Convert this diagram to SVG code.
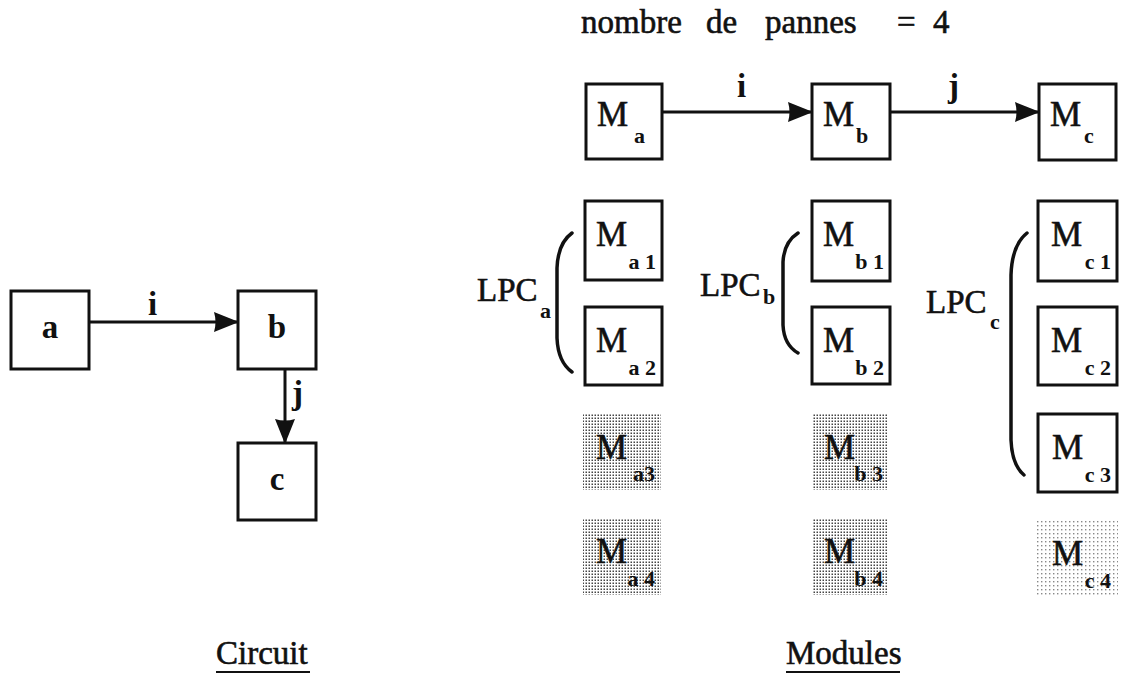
<svg xmlns="http://www.w3.org/2000/svg" width="1126" height="695" viewBox="0 0 1126 695">
<style>
text{font-family:"Liberation Serif","Times New Roman",serif;fill:#111;stroke:#111;stroke-width:0.6}
.box{fill:#fff;stroke:#111;stroke-width:3}
.shade{fill:url(#dots);stroke:none}
.shadeL{fill:url(#dotsL);stroke:none}
.lbl{font-size:33px;font-weight:bold;stroke-width:0}
.M{font-size:35px}
.sub{font-size:22px;font-weight:bold;stroke-width:0}
.lpc{font-size:33px}
.title{font-size:33px}
.cap{font-size:33px}
.conn{stroke:#111;stroke-width:3;fill:none}
.brk{stroke:#111;stroke-width:3.5;fill:none;stroke-linecap:round}
</style>
<defs>
<pattern id="dots" width="3" height="3" patternUnits="userSpaceOnUse">
<rect width="3" height="3" fill="#fff"/>
<rect x="0.5" y="0.5" width="1.5" height="1.5" fill="#444"/>
</pattern>
<pattern id="dotsL" width="4" height="4" patternUnits="userSpaceOnUse">
<rect width="4" height="4" fill="#fff"/>
<rect x="1" y="1" width="1.4" height="1.4" fill="#888"/>
</pattern>
<marker id="arr" viewBox="0 0 25 22" refX="24" refY="11" markerWidth="25" markerHeight="22" markerUnits="userSpaceOnUse" orient="auto">
<path d="M0,1 L25,11 L0,21 Q3,11 0,1 z" fill="#111"/>
</marker>
</defs>

<text class="title" x="581" y="33">nombre<tspan x="706">de</tspan><tspan x="765">pannes</tspan><tspan x="897">=</tspan><tspan x="933">4</tspan></text>

<g id="connectors">
<line class="conn" x1="89" y1="322" x2="238" y2="322" marker-end="url(#arr)"/>
<line class="conn" x1="285" y1="369" x2="285" y2="443" marker-end="url(#arr)"/>
<line class="conn" x1="662" y1="112" x2="812" y2="112" marker-end="url(#arr)"/>
<line class="conn" x1="890" y1="112" x2="1039" y2="112" marker-end="url(#arr)"/>
<text class="lbl" x="148" y="315">i</text>
<text class="lbl" x="292" y="404">j</text>
<text class="lbl" x="737" y="97">i</text>
<text class="lbl" x="948" y="97">j</text>
</g>

<g id="node-a"><rect class="box" x="11" y="291" width="78" height="78"/><text class="lbl" x="50" y="338" text-anchor="middle">a</text></g>
<g id="node-b"><rect class="box" x="238" y="291" width="78" height="78"/><text class="lbl" x="277" y="338" text-anchor="middle">b</text></g>
<g id="node-c"><rect class="box" x="238" y="443" width="78" height="77"/><text class="lbl" x="277" y="490" text-anchor="middle">c</text></g>

<g id="node-Ma"><rect class="box" x="586" y="84" width="76" height="75"/><text class="M" x="597" y="126">M<tspan class="sub" x="634" y="143">a</tspan></text></g>
<g id="node-Mb"><rect class="box" x="812" y="84" width="78" height="75"/><text class="M" x="823" y="126">M<tspan class="sub" x="856" y="143">b</tspan></text></g>
<g id="node-Mc"><rect class="box" x="1039" y="84" width="77" height="76"/><text class="M" x="1050" y="126">M<tspan class="sub" x="1084" y="143">c</tspan></text></g>

<g id="lpc-a">
<text class="lpc" x="477" y="301">LPC<tspan class="sub" x="540" y="318">a</tspan></text>
<path class="brk" d="M572,233 Q558,243 557,268 L557,338 Q558,362 572,372"/>
</g>
<g id="lpc-b">
<text class="lpc" x="700" y="296">LPC<tspan class="sub" x="763" y="304">b</tspan></text>
<path class="brk" d="M798,233 Q784,242 783,262 L783,325 Q784,345 798,353"/>
</g>
<g id="lpc-c">
<text class="lpc" x="926" y="313">LPC<tspan class="sub" x="990" y="329">c</tspan></text>
<path class="brk" d="M1027,233 Q1012,245 1011,275 L1011,440 Q1012,465 1024,475"/>
</g>

<g id="node-Ma1"><rect class="box" x="585" y="201" width="77" height="79"/><text class="M" x="596" y="246">M<tspan class="sub" x="656" y="269" text-anchor="end">a 1</tspan></text></g>
<g id="node-Ma2"><rect class="box" x="585" y="307" width="77" height="78"/><text class="M" x="596" y="352">M<tspan class="sub" x="656" y="375" text-anchor="end">a 2</tspan></text></g>
<g id="node-Ma3"><rect class="shade" x="583" y="414" width="78" height="76"/><text class="M" x="596" y="459">M<tspan class="sub" x="655" y="481" text-anchor="end">a3</tspan></text></g>
<g id="node-Ma4"><rect class="shade" x="583" y="518" width="78" height="77"/><text class="M" x="596" y="563">M<tspan class="sub" x="655" y="586" text-anchor="end">a 4</tspan></text></g>

<g id="node-Mb1"><rect class="box" x="812" y="201" width="78" height="80"/><text class="M" x="823" y="246">M<tspan class="sub" x="884" y="269" text-anchor="end">b 1</tspan></text></g>
<g id="node-Mb2"><rect class="box" x="812" y="307" width="78" height="77"/><text class="M" x="823" y="352">M<tspan class="sub" x="884" y="375" text-anchor="end">b 2</tspan></text></g>
<g id="node-Mb3"><rect class="shade" x="812" y="414" width="76" height="76"/><text class="M" x="824" y="459">M<tspan class="sub" x="883" y="481" text-anchor="end">b 3</tspan></text></g>
<g id="node-Mb4"><rect class="shade" x="812" y="518" width="76" height="77"/><text class="M" x="824" y="563">M<tspan class="sub" x="883" y="586" text-anchor="end">b 4</tspan></text></g>

<g id="node-Mc1"><rect class="box" x="1038" y="201" width="79" height="80"/><text class="M" x="1051" y="246">M<tspan class="sub" x="1111" y="269" text-anchor="end">c 1</tspan></text></g>
<g id="node-Mc2"><rect class="box" x="1038" y="307" width="79" height="78"/><text class="M" x="1051" y="352">M<tspan class="sub" x="1111" y="375" text-anchor="end">c 2</tspan></text></g>
<g id="node-Mc3"><rect class="box" x="1038" y="414" width="79" height="78"/><text class="M" x="1052" y="459">M<tspan class="sub" x="1111" y="482" text-anchor="end">c 3</tspan></text></g>
<g id="node-Mc4"><rect class="shadeL" x="1037" y="520" width="81" height="77"/><text class="M" x="1052" y="565">M<tspan class="sub" x="1111" y="588" text-anchor="end">c 4</tspan></text></g>

<g id="captions">
<text class="cap" x="216" y="664">Circuit</text>
<line x1="216" y1="672" x2="310" y2="672" stroke="#111" stroke-width="2"/>
<text class="cap" x="786" y="664">Modules</text>
<line x1="786" y1="672" x2="900" y2="672" stroke="#111" stroke-width="2"/>
</g>
</svg>
